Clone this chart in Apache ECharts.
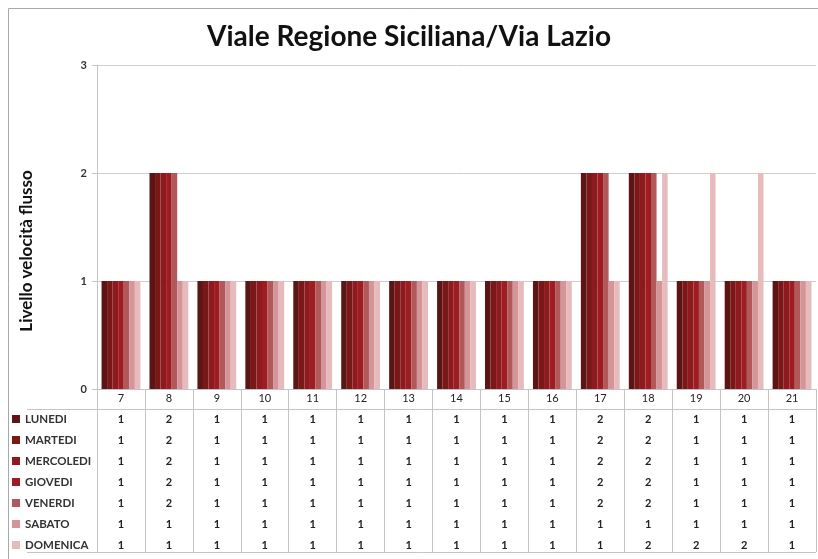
<!DOCTYPE html>
<html>
<head>
<meta charset="utf-8">
<script src="https://cdn.jsdelivr.net/npm/echarts@6/dist/echarts.min.js"></script>
<style>
  html, body { margin: 0; padding: 0; background: #fff; }
  #chart { width: 818px; height: 559px; }
</style>
</head>
<body>
<div id="chart"></div>
<script>
const TITLE = 'Viale Regione Siciliana/Via Lazio';
const Y_NAME = 'Livello velocità flusso';
const hours = ['7', '8', '9', '10', '11', '12', '13', '14', '15', '16', '17', '18', '19', '20', '21'];
const days = ['LUNEDI', 'MARTEDI', 'MERCOLEDI', 'GIOVEDI', 'VENERDI', 'SABATO', 'DOMENICA'];
const lunedi    = [1, 2, 1, 1, 1, 1, 1, 1, 1, 1, 2, 2, 1, 1, 1];
const martedi   = [1, 2, 1, 1, 1, 1, 1, 1, 1, 1, 2, 2, 1, 1, 1];
const mercoledi = [1, 2, 1, 1, 1, 1, 1, 1, 1, 1, 2, 2, 1, 1, 1];
const giovedi   = [1, 2, 1, 1, 1, 1, 1, 1, 1, 1, 2, 2, 1, 1, 1];
const venerdi   = [1, 2, 1, 1, 1, 1, 1, 1, 1, 1, 2, 2, 1, 1, 1];
const sabato    = [1, 1, 1, 1, 1, 1, 1, 1, 1, 1, 1, 1, 1, 1, 1];
const domenica  = [1, 1, 1, 1, 1, 1, 1, 1, 1, 1, 1, 2, 2, 2, 1];
const yTicks = [0, 1, 2, 3];

const rows = [lunedi, martedi, mercoledi, giovedi, venerdi, sabato, domenica];
const colors = ['#5c1414', '#7a1818', '#8e1a1e', '#9e1d21', '#b0585a', '#d39597', '#e7babb'];
const FONT = 'Lato, "Liberation Sans", sans-serif';
const lineColor = '#c4c4c4';

const chart = echarts.init(document.getElementById('chart'));

// first axis: hour header + column separators; others: one table row each
const xAxes = [{
    type: 'category', data: hours, position: 'bottom', gridIndex: 0,
    axisLine: { lineStyle: { color: lineColor } },
    axisTick: { show: true, interval: 0, length: 163, lineStyle: { color: lineColor } },
    axisLabel: { interval: 0, margin: 9, verticalAlign: 'middle', fontFamily: FONT, fontSize: 11, color: '#222' }
}];
rows.forEach((vals, k) => {
    xAxes.push({
        type: 'category', data: hours, position: 'bottom', gridIndex: 0,
        offset: 30 + 21 * k,
        axisLine: { show: false }, axisTick: { show: false },
        axisLabel: {
            interval: 0, margin: 0, verticalAlign: 'middle',
            fontFamily: FONT, fontSize: 11, fontWeight: 'bold', color: '#222',
            formatter: (v, i) => String(vals[i])
        }
    });
});

chart.setOption({
    animation: false,
    color: colors,
    title: {
        text: TITLE, left: 'center', top: 18,
        textStyle: { fontFamily: FONT, fontSize: 28, fontWeight: 'bold', color: '#111' }
    },
    legend: {
        data: days, orient: 'vertical', left: 12, top: 413, padding: 0,
        itemWidth: 8, itemHeight: 8, itemGap: 9, icon: 'rect',
        textStyle: { fontFamily: FONT, fontSize: 11.5, fontWeight: 'bold', color: '#333', lineHeight: 12 }
    },
    grid: { left: 97, right: 2, top: 65, bottom: 170 },
    xAxis: xAxes,
    yAxis: {
        type: 'value', min: yTicks[0], max: yTicks[yTicks.length - 1], interval: 1,
        name: Y_NAME, nameLocation: 'middle', nameGap: 62, nameRotate: 90,
        nameTextStyle: { fontFamily: FONT, fontSize: 17, fontWeight: 'bold', color: '#111', padding: [0, 48, 0, 0] },
        axisLine: { show: true, lineStyle: { color: lineColor } },
        axisTick: { show: true, length: 5, lineStyle: { color: lineColor } },
        axisLabel: { margin: 10, fontFamily: FONT, fontSize: 11, fontWeight: 'bold', color: '#333' },
        splitLine: { lineStyle: { color: '#cfcfcf' } }
    },
    series: days.map((d, k) => ({
        name: d, type: 'bar', data: rows[k], xAxisIndex: 0,
        barGap: '0%', barCategoryGap: '19%',
        itemStyle: { color: colors[k] }
    })),
    graphic: [
        { type: 'rect', silent: true, shape: { x: 8.5, y: 8.5, width: 830, height: 580 },
          style: { fill: 'none', stroke: '#a8a8a8', lineWidth: 1 } },
        { type: 'line', silent: true, shape: { x1: 27, y1: 409.5, x2: 816, y2: 409.5 },
          style: { stroke: lineColor, lineWidth: 1 } },
        { type: 'line', silent: true, shape: { x1: 27, y1: 552.5, x2: 816, y2: 552.5 },
          style: { stroke: lineColor, lineWidth: 1 } }
    ]
});
window.addEventListener('resize', () => chart.resize());
</script>
</body>
</html>
